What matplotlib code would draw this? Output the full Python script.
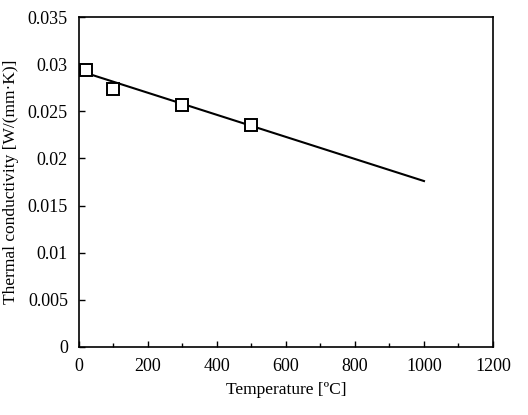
import numpy as np
import matplotlib.pyplot as plt
from matplotlib.ticker import MultipleLocator

# measured points
temp = [20, 100, 300, 500]
conductivity = [0.0294, 0.0274, 0.0257, 0.0235]

# fitted line
line_temp = [0, 1000]
line_cond = [0.0293, 0.0176]

plt.rcParams['font.family'] = ['Liberation Serif', 'DejaVu Serif']

fig = plt.figure(figsize=(5.28, 4.15), dpi=100)
ax = fig.add_axes([0.1496, 0.1639, 0.7841, 0.7951])

ax.plot(line_temp, line_cond, color='black', lw=1.5, zorder=2)
ax.plot(temp, conductivity, linestyle='none', marker='s', markersize=8,
        markerfacecolor='white', markeredgecolor='black', markeredgewidth=1.4, zorder=3)

ax.set_xlim(0, 1200)
ax.set_ylim(0, 0.035)
ax.xaxis.set_major_locator(MultipleLocator(200))
ax.xaxis.set_minor_locator(MultipleLocator(100))
ax.set_yticks(np.arange(0, 0.0351, 0.005))
ax.set_yticklabels(['0', '0.005', '0.01', '0.015', '0.02', '0.025', '0.03', '0.035'])

ax.tick_params(which='both', direction='in', top=False, right=False, labelsize=13, pad=8)
ax.tick_params(which='major', length=4, width=1)
ax.tick_params(which='minor', length=3, width=1)
for s in ax.spines.values():
    s.set_linewidth(1.2)

ax.set_xlabel('Temperature [ºC]', fontsize=12.5, labelpad=5)
ax.set_ylabel('Thermal conductivity [W/(mm·K)]', fontsize=12.5, labelpad=6)

fig.savefig('out.png', dpi=100)
